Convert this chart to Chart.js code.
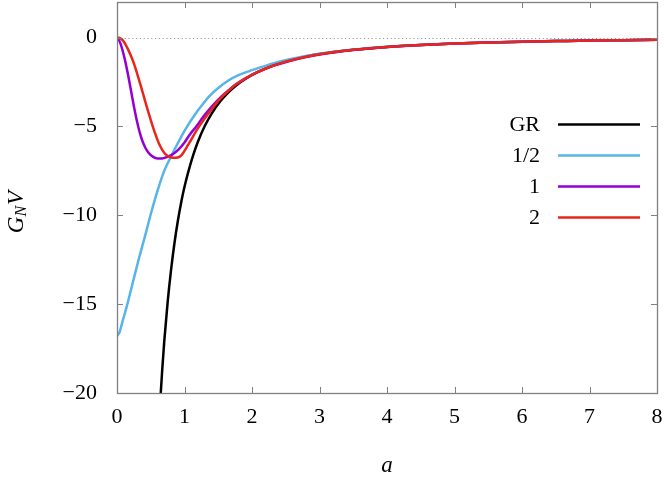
<!DOCTYPE html>
<html>
<head>
<meta charset="utf-8">
<script src="https://cdn.jsdelivr.net/npm/chart.js@4/dist/chart.umd.min.js"></script>
<style>
html,body{margin:0;padding:0;background:#fff;}
#c{display:block;}
</style>
</head>
<body>
<canvas id="c" width="664" height="480"></canvas>
<script>
// ---- data ----
const seriesNames = ["GR", "1/2", "1", "2"];
const xTicks = [0, 1, 2, 3, 4, 5, 6, 7, 8];
const yTicks = [-20, -15, -10, -5, 0];

const grA = [0.64, 0.67, 0.70, 0.75, 0.80, 0.85, 0.90, 0.96, 1.00, 1.06, 1.13, 1.20, 1.30, 1.40, 1.53, 1.65, 1.77, 1.90, 2.07, 2.30, 2.54, 2.80, 3.00, 3.50, 4.00, 4.50, 5.00, 5.50, 6.00, 6.50, 7.00, 7.50, 8.00];
const grV = [-20.5, -18.7, -17.1, -14.9, -13.1, -11.6, -10.35, -9.1, -8.4, -7.5, -6.6, -5.85, -4.98, -4.29, -3.59, -3.08, -2.68, -2.33, -1.96, -1.59, -1.30, -1.07, -0.93, -0.69, -0.53, -0.42, -0.34, -0.28, -0.23, -0.20, -0.17, -0.15, -0.13];

const halfA = [0, 0.04, 0.08, 0.14, 0.22, 0.32, 0.42, 0.51, 0.61, 0.70, 0.80, 0.90, 1.00, 1.16, 1.27, 1.38, 1.50, 1.65, 1.80, 1.95, 2.07, 2.30, 2.54, 2.80, 3.00, 3.50, 4.00, 4.50, 5.00, 5.50, 6.00, 6.50, 7.00, 7.50, 8.00];
const halfV = [-16.8, -16.55, -16.0, -15.2, -14.0, -12.5, -11.1, -9.8, -8.5, -7.5, -6.7, -5.95, -5.25, -4.3, -3.75, -3.26, -2.84, -2.42, -2.12, -1.9, -1.75, -1.47, -1.24, -1.04, -0.91, -0.68, -0.52, -0.42, -0.34, -0.28, -0.23, -0.20, -0.17, -0.15, -0.13];

const oneA = [0, 0.03, 0.07, 0.12, 0.17, 0.22, 0.27, 0.32, 0.37, 0.42, 0.47, 0.53, 0.60, 0.67, 0.74, 0.82, 0.91, 1.00, 1.08, 1.18, 1.28, 1.40, 1.53, 1.65, 1.77, 1.90, 2.07, 2.30, 2.54, 2.80, 3.00, 3.50, 4.00, 4.50, 5.00, 5.50, 6.00, 6.50, 7.00, 7.50, 8.00];
const oneV = [0, -0.15, -0.55, -1.3, -2.22, -3.25, -4.25, -5.1, -5.75, -6.2, -6.5, -6.7, -6.8, -6.8, -6.72, -6.58, -6.3, -5.9, -5.45, -4.98, -4.45, -3.9, -3.38, -2.98, -2.62, -2.32, -1.98, -1.61, -1.33, -1.09, -0.95, -0.70, -0.53, -0.42, -0.34, -0.28, -0.23, -0.20, -0.17, -0.15, -0.13];

const twoA = [0, 0.05, 0.10, 0.17, 0.22, 0.27, 0.32, 0.37, 0.42, 0.47, 0.52, 0.57, 0.62, 0.67, 0.72, 0.77, 0.83, 0.90, 0.96, 1.06, 1.20, 1.28, 1.40, 1.53, 1.65, 1.77, 1.90, 2.07, 2.30, 2.54, 2.80, 3.00, 3.50, 4.00, 4.50, 5.00, 5.50, 6.00, 6.50, 7.00, 7.50, 8.00];
const twoV = [0, -0.05, -0.22, -0.72, -1.15, -1.68, -2.3, -2.95, -3.62, -4.27, -4.88, -5.45, -5.95, -6.32, -6.57, -6.7, -6.77, -6.75, -6.6, -6.0, -5.1, -4.66, -4.05, -3.44, -3.0, -2.62, -2.3, -1.96, -1.6, -1.32, -1.08, -0.94, -0.69, -0.53, -0.42, -0.34, -0.28, -0.23, -0.20, -0.17, -0.15, -0.13];

const seriesColors = ["#000000", "#56B4E9", "#9400D3", "#E8261B"];

// ---- build ----
function pts(a, v) { return a.map((x, i) => ({ x: x, y: v[i] })); }
const allA = [grA, halfA, oneA, twoA];
const allV = [grV, halfV, oneV, twoV];

const FONT = "'Liberation Serif', 'DejaVu Serif', serif";
const frameColor = "#808080";

const datasets = seriesNames.map((n, i) => ({
  label: n,
  data: pts(allA[i], allV[i]),
  borderColor: seriesColors[i],
  backgroundColor: seriesColors[i],
  borderWidth: 2.5,
  pointRadius: 0,
  showLine: true,
  fill: false,
  cubicInterpolationMode: 'monotone',
  order: seriesNames.length - i
}));

function fmt(v) { return v < 0 ? '\u2212' + Math.abs(v) : String(v); }

const decor = {
  id: 'decor',
  beforeDatasetsDraw(chart) {
    const ctx = chart.ctx, ca = chart.chartArea, y = chart.scales.y;
    const y0 = y.getPixelForValue(0);
    ctx.save();
    ctx.strokeStyle = '#9a9a9a';
    ctx.lineWidth = 1;
    ctx.setLineDash([1.2, 2.6]);
    ctx.beginPath();
    ctx.moveTo(ca.left, Math.round(y0) + 0.5);
    ctx.lineTo(ca.right, Math.round(y0) + 0.5);
    ctx.stroke();
    ctx.restore();
  },
  afterDatasetsDraw(chart) {
    const ctx = chart.ctx, ca = chart.chartArea;
    const xs = chart.scales.x, ys = chart.scales.y;
    ctx.save();
    // legend
    const lx0 = 558, lx1 = 640, tx = 540;
    const rows = [124.5, 155.5, 186.5, 217.5];
    ctx.font = '22px ' + FONT;
    ctx.textAlign = 'right';
    ctx.textBaseline = 'middle';
    seriesNames.forEach((n, i) => {
      ctx.fillStyle = '#000';
      ctx.fillText(n, tx, rows[i] + 1);
      ctx.strokeStyle = seriesColors[i];
      ctx.lineWidth = 2.5;
      ctx.beginPath();
      ctx.moveTo(lx0, rows[i]);
      ctx.lineTo(lx1, rows[i]);
      ctx.stroke();
    });
    // frame
    ctx.strokeStyle = frameColor;
    ctx.lineWidth = 1.3;
    ctx.strokeRect(Math.round(ca.left) + 0.5, Math.round(ca.top) + 0.5, Math.round(ca.right - ca.left), Math.round(ca.bottom - ca.top));
    // inward ticks on all sides
    const tl = 6;
    ctx.lineWidth = 1;
    ctx.beginPath();
    xTicks.forEach(v => {
      const px = Math.round(xs.getPixelForValue(v)) + 0.5;
      ctx.moveTo(px, ca.bottom); ctx.lineTo(px, ca.bottom - tl);
      ctx.moveTo(px, ca.top); ctx.lineTo(px, ca.top + tl);
    });
    yTicks.forEach(v => {
      const py = Math.round(ys.getPixelForValue(v)) + 0.5;
      ctx.moveTo(ca.left, py); ctx.lineTo(ca.left + tl, py);
      ctx.moveTo(ca.right, py); ctx.lineTo(ca.right - tl, py);
    });
    ctx.stroke();
    // axis titles
    ctx.fillStyle = '#000';
    ctx.textAlign = 'center';
    ctx.textBaseline = 'middle';
    ctx.font = 'italic 23px ' + FONT;
    ctx.fillText('a', (ca.left + ca.right) / 2, 466);
    // y title: G_N V rotated
    ctx.translate(17, 212);
    ctx.rotate(-Math.PI / 2);
    ctx.textAlign = 'left';
    ctx.textBaseline = 'middle';
    ctx.font = 'italic 23px ' + FONT;
    const wG = ctx.measureText('G').width;
    ctx.font = 'italic 16px ' + FONT;
    const wN = ctx.measureText('N').width;
    ctx.font = 'italic 23px ' + FONT;
    const wV = ctx.measureText('V').width;
    const total = wG + wN + 1 + wV;
    let cx = -total / 2;
    ctx.fillText('G', cx, 0); cx += wG;
    ctx.font = 'italic 16px ' + FONT;
    ctx.fillText('N', cx, 5); cx += wN + 1;
    ctx.font = 'italic 23px ' + FONT;
    ctx.fillText('V', cx, 0);
    ctx.restore();
  }
};

function zeroPad(s) { s.paddingLeft = 0; s.paddingRight = 0; s.paddingTop = 0; s.paddingBottom = 0; }

new Chart(document.getElementById('c'), {
  type: 'scatter',
  data: { datasets: datasets },
  options: {
    responsive: false,
    animation: false,
    events: [],
    layout: { padding: { top: 2, right: 7, left: 0, bottom: 0 } },
    plugins: { legend: { display: false }, tooltip: { enabled: false } },
    scales: {
      x: {
        type: 'linear', min: 0, max: 8,
        afterBuildTicks: s => { s.ticks = xTicks.map(v => ({ value: v })); },
        afterFit: s => { s.height = 87; zeroPad(s); },
        grid: { display: false, drawTicks: false },
        border: { display: false },
        ticks: { color: '#000', font: { family: FONT, size: 22 }, padding: 11, maxRotation: 0, callback: v => fmt(v) }
      },
      y: {
        type: 'linear', min: -20, max: 2,
        afterBuildTicks: s => { s.ticks = yTicks.map(v => ({ value: v })); },
        afterFit: s => { s.width = 117; zeroPad(s); },
        grid: { display: false, drawTicks: false },
        border: { display: false },
        ticks: { color: '#000', font: { family: FONT, size: 22 }, padding: 20, callback: v => fmt(v) }
      }
    }
  },
  plugins: [decor]
});
</script>
</body>
</html>
